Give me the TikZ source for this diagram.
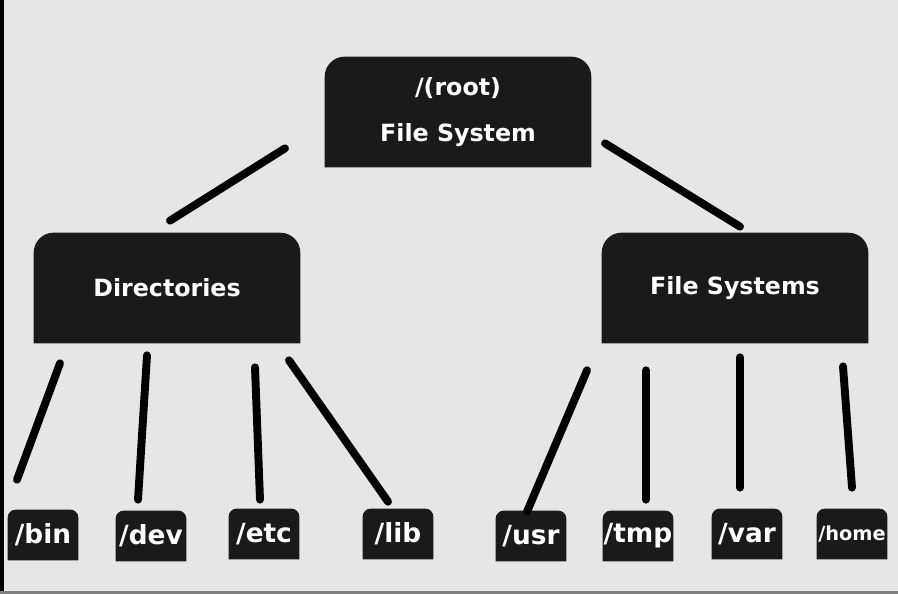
\documentclass[tikz,border=0pt]{standalone}
\usepackage{fontspec}
\setmainfont{DejaVu Sans}
\usetikzlibrary{backgrounds}
\definecolor{boxgray}{HTML}{1A1A1A}
\definecolor{paper}{HTML}{E6E6E6}
\tikzset{
  dirbox/.style={minimum width=5.32cm, minimum height=2.2cm, inner sep=0pt, align=center, text=white, font=\bfseries\fontsize{13.5}{26}\selectfont},
  leafbox/.style={minimum width=1.4cm, minimum height=1cm, inner sep=0pt, text=white, font=\bfseries\fontsize{15}{18}\selectfont},
  link/.style={line width=4.5pt, line cap=round}
}
\begin{document}
\begin{tikzpicture}[x=0.02cm, y=-0.02cm]
        % Page and frame
        \useasboundingbox (0,0) rectangle (898,594);
        \begin{scope}[on background layer]
            \fill[paper] (0,0) rectangle (898,594);
        \end{scope}
        \fill[black] (0,0) rectangle (4,594);
        \fill[gray] (0,591) rectangle (898,594);
        % Define the boxes
        \node[dirbox] (root) at (458,112) {/(root)\\File System};
        \node[dirbox] (dirs) at (167,288) {Directories};
        \node[dirbox] (fsys) at (735,288) {File Systems};
        \node[leafbox] (bin) at (43,535) {/bin};
        \node[leafbox] (dev) at (151,536) {/dev};
        \node[leafbox] (etc) at (264,534) {/etc};
        \node[leafbox] (lib) at (398,534) {/lib};
        \node[leafbox] (usr) at (531,536) {/usr};
        \node[leafbox] (tmp) at (638,536) {/tmp};
        \node[leafbox] (var) at (747,534) {/var};
        \node[leafbox, font=\bfseries\fontsize{11}{13}\selectfont] (home) at (852,534) {/home};
        % Dark fill with rounded top corners
        \begin{scope}[on background layer]
            \foreach \n/\r in {root/0.4, dirs/0.4, fsys/0.4, bin/0.16, dev/0.16, etc/0.16, lib/0.16, usr/0.16, tmp/0.16, var/0.16, home/0.16}
                \fill[boxgray] (\n.south west) -- ([yshift=-\r cm]\n.north west)
                    arc[start angle=180, end angle=90, radius=\r cm]
                    -- ([xshift=-\r cm]\n.north east)
                    arc[start angle=90, end angle=0, radius=\r cm]
                    -- (\n.south east) -- cycle;
        \end{scope}
        % Draw the links
        \foreach \from/\fx/\fy/\to/\tx/\ty in {root/-173/-19/dirs/3/-12, root/147/-24/fsys/5/-6,
            dirs/-107/20/bin/-26/-30, dirs/-20/12/dev/-13/-11, dirs/88/24/etc/-4/-9, dirs/122/17/lib/-10/-7,
            fsys/-148/27/usr/-4/1, fsys/-89/27/tmp/8/-11, fsys/5/14/var/-7/-21, fsys/108/23/home/0/-21}
            \draw[link] ([shift={(\fx,\fy)}]\from.south) -- ([shift={(\tx,\ty)}]\to.north);
    \end{tikzpicture}
\end{document}
